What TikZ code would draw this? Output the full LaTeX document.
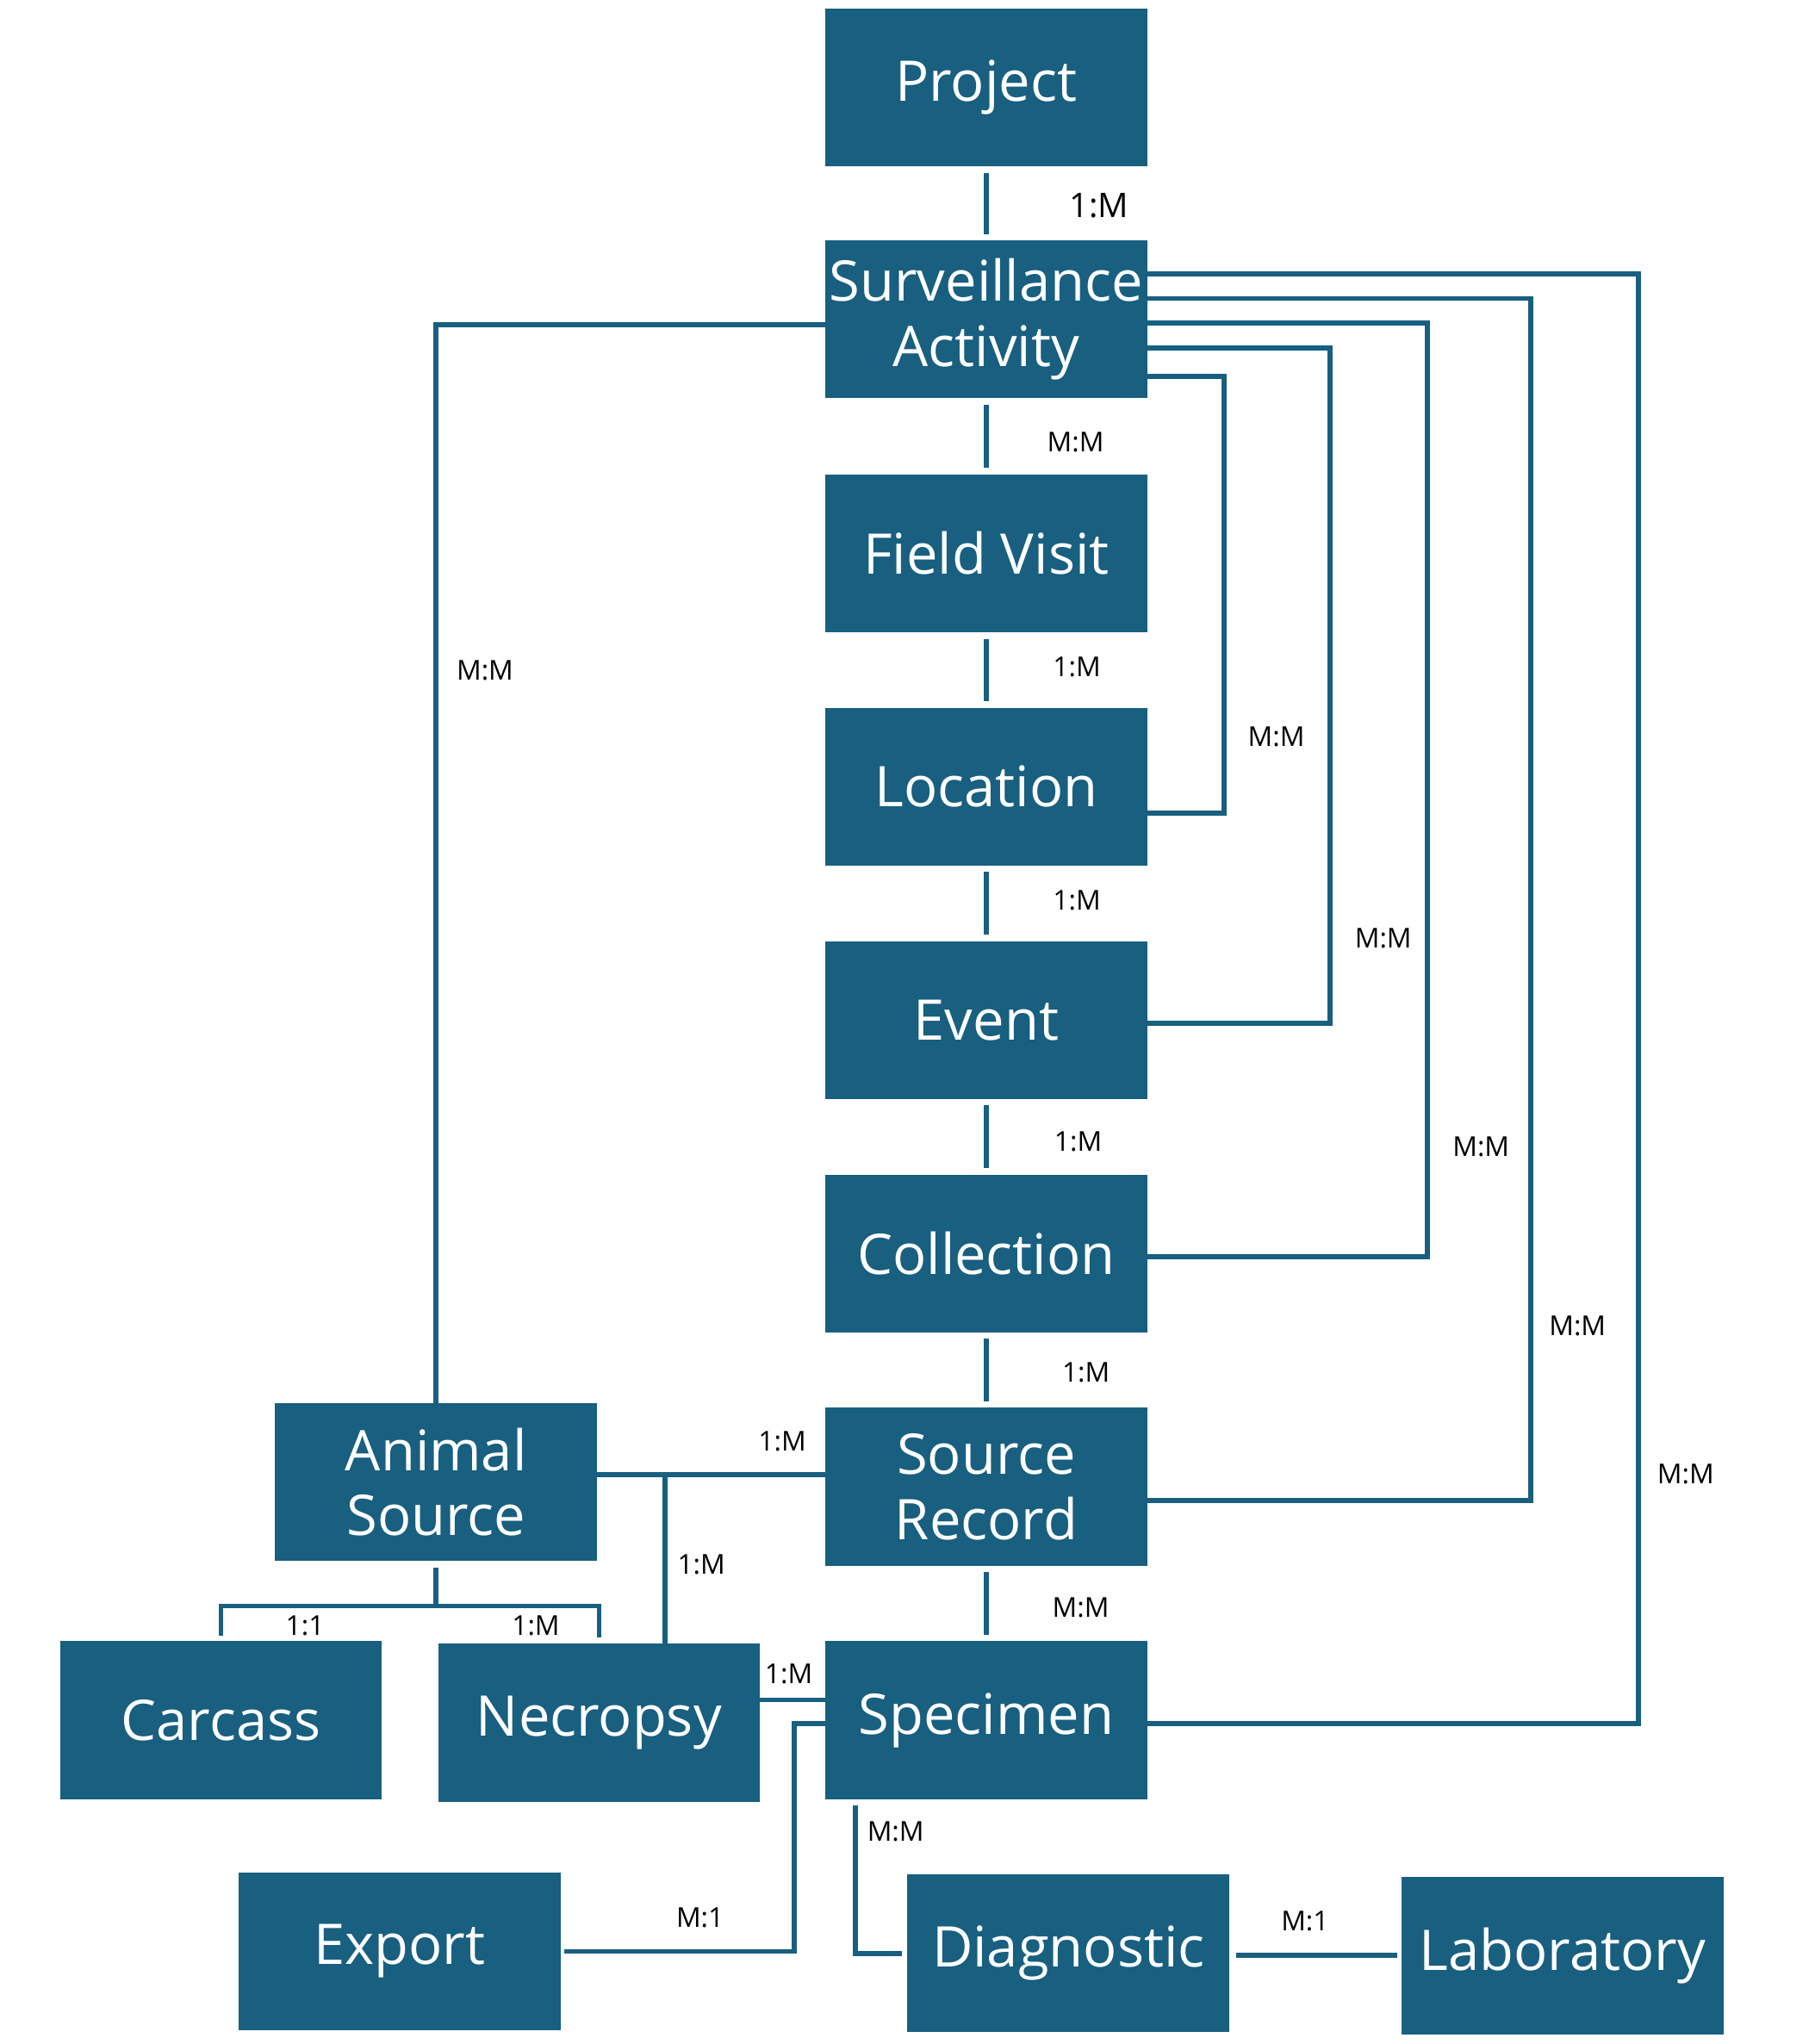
\documentclass[tikz,border=0pt]{standalone}
\usepackage{fontspec}
\setmainfont{Open Sans}
\usetikzlibrary{calc}
\definecolor{boxblue}{RGB}{24,95,128}
\tikzset{
  ent/.style={fill=boxblue, draw=none, text=white, minimum width=123.5pt, minimum height=60.5pt,
    inner sep=0pt, outer sep=0pt, align=center, font=\fontsize{21.5pt}{25pt}\selectfont},
  conn/.style={draw=boxblue, line width=1.9pt},
  gap/.style={shorten <=2.5pt, shorten >=2.5pt},
  lbl/.style={text=black, inner sep=0pt, font=\fontsize{10.5pt}{12pt}\selectfont},
  biglbl/.style={text=black, inner sep=0pt, font=\fontsize{13pt}{15pt}\selectfont}
}
\begin{document}
\begin{tikzpicture}[x=0.5pt,y=-0.5pt]
\useasboundingbox (0,0) rectangle (1387,1568);
% entities
\node[ent] (proj) at (756.5,67) {Project};
\node[ent] (sa) at (756.5,245) {Surveillance\\Activity};
\node[ent] (fv) at (756.5,424.5) {Field Visit};
\node[ent] (loc) at (756.5,603.5) {Location};
\node[ent] (ev) at (756.5,782.5) {Event};
\node[ent] (coll) at (756.5,961.5) {Collection};
\node[ent] (sr) at (756.5,1140.5) {Source\\Record};
\node[ent] (spec) at (756.5,1319.5) {Specimen};
\node[ent] (as) at (334.5,1137) {Animal\\Source};
\node[ent] (carc) at (169.5,1319.5) {Carcass};
\node[ent] (necr) at (459.5,1321.5) {Necropsy};
\node[ent] (exp) at (306.5,1497) {Export};
\node[ent] (diag) at (819.5,1498.5) {Diagnostic};
\node[ent] (lab) at (1198.5,1500) {Laboratory};
% vertical chain
\draw[conn,gap] (proj) -- (sa);
\draw[conn,gap] (sa) -- (fv);
\draw[conn,gap] (fv) -- (loc);
\draw[conn,gap] (loc) -- (ev);
\draw[conn,gap] (ev) -- (coll);
\draw[conn,gap] (coll) -- (sr);
\draw[conn,gap] (sr) -- (spec);
% right loops from Surveillance Activity
\draw[conn] ($(sa.east)+(0,-35)$) -- ++(377,0) |- ($(spec.east)+(0,2.5)$);
\draw[conn] ($(sa.east)+(0,-16)$) -- ++(294,0) |- ($(sr.east)+(0,10.5)$);
\draw[conn] ($(sa.east)+(0,3)$) -- ++(215,0) |- ($(coll.east)+(0,2.5)$);
\draw[conn] ($(sa.east)+(0,22)$) -- ++(140,0) |- ($(ev.east)+(0,2.5)$);
\draw[conn] ($(sa.east)+(0,44)$) -- ++(59,0) |- ($(loc.east)+(0,20.5)$);
% left loop to Animal Source
\draw[conn] ($(sa.west)+(0,4)$) -| (as.north);
% Animal Source to Source Record and Necropsy
\coordinate (j1) at (510,1131);
\draw[conn] (as.east |- j1) -- (sr.west |- j1);
\draw[conn] (j1) -- (necr.north -| j1);
% Animal Source to Carcass / Necropsy
\coordinate (j2) at (334.5,1232);
\draw[conn] ($(as.south)+(0,5)$) -- (j2);
\draw[conn] (j2) -| ($(carc.north)+(0,-4)$);
\draw[conn] (j2) -| ($(necr.north)+(0,-5)$);
% Necropsy to Specimen
\coordinate (j3) at (608,1304);
\draw[conn] (necr.east |- j3) -- (spec.west |- j3);
% Specimen to Export
\draw[conn] ($(spec.west)+(0,2.5)$) -| ($(exp.east)+(179,0)$) -- ($(exp.east)+(3,0)$);
% Specimen to Diagnostic
\draw[conn] ($(spec.south)+(-100.5,5)$) |- ($(diag.west)+(-4,0)$);
% Diagnostic to Laboratory
\draw[conn] ($(diag.east)+(5,1.5)$) -- ($(lab.west)+(-3,0)$);
% labels
\node[biglbl] (l1) at (843,158) {1:M};
\node[lbl] (l2) at (825,339) {M:M};
\node[lbl] (l3) at (826,512) {1:M};
\node[lbl] (l4) at (826,691) {1:M};
\node[lbl] (l5) at (827,876) {1:M};
\node[lbl] (l6) at (833,1053) {1:M};
\node[lbl] (l7) at (829,1233) {M:M};
\node[lbl] (l8) at (1293,1131) {M:M};
\node[lbl] (l9) at (1210,1017) {M:M};
\node[lbl] (l10) at (1136,880) {M:M};
\node[lbl] (l11) at (1061,720) {M:M};
\node[lbl] (l12) at (979,565) {M:M};
\node[lbl] (l13) at (372,514) {M:M};
\node[lbl] (l14) at (600,1106) {1:M};
\node[lbl] (l15) at (538,1200) {1:M};
\node[lbl] (l16) at (234,1247) {1:1};
\node[lbl] (l17) at (411,1247) {1:M};
\node[lbl] (l18) at (605,1284) {1:M};
\node[lbl] (l19) at (537,1471) {M:1};
\node[lbl] (l20) at (687,1405) {M:M};
\node[lbl] (l21) at (1001,1474) {M:1};
\end{tikzpicture}
\end{document}
